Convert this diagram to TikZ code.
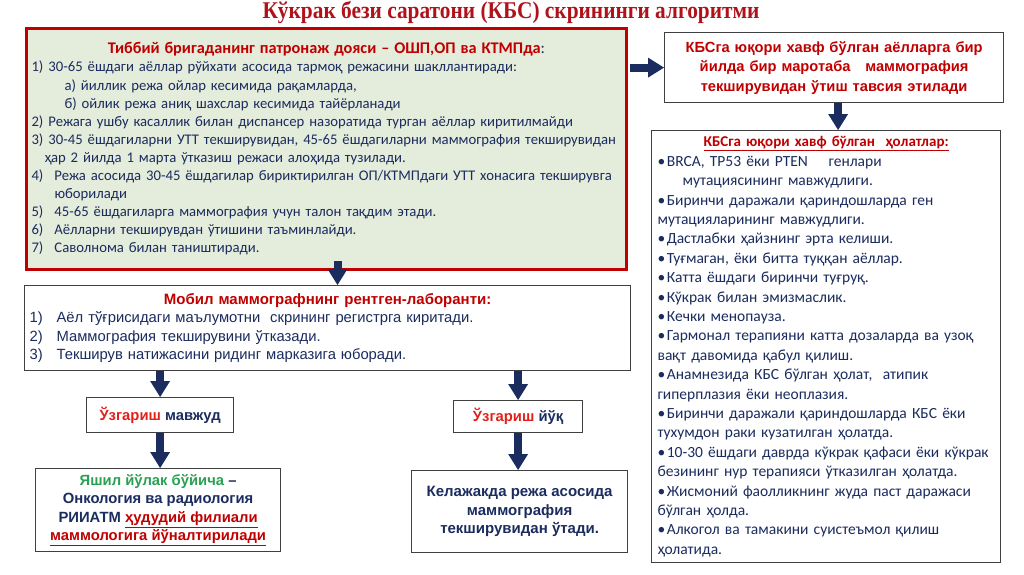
\documentclass[tikz,border=0pt]{standalone}
\usepackage{fontspec}
\setmainfont{Carlito}
\newfontfamily\arialfont{Liberation Sans}
\newfontfamily\timesfont[FakeStretch=0.89]{Liberation Serif}
\usepackage{xcolor}
\usetikzlibrary{arrows.meta}
\definecolor{navy}{HTML}{1B2C5E}
\definecolor{redtxt}{HTML}{C00000}
\definecolor{brightred}{HTML}{E0201B}
\definecolor{titlered}{HTML}{B0121B}
\definecolor{greentxt}{HTML}{2AA052}
\definecolor{palegreen}{HTML}{E4ECDC}
\definecolor{boxgray}{HTML}{404040}
\newcommand{\bul}{•\hspace{1.5pt}}

\begin{document}
\begin{tikzpicture}[
    x=1pt, y=-1pt,
    titletext/.style={font=\timesfont\bfseries\fontsize{24}{26}\selectfont, text=titlered},
    plan/.style={rectangle, draw=redtxt, line width=3pt, fill=palegreen, anchor=north west,
        inner xsep=5pt, inner ysep=0pt, align=left, text=navy,
        font=\fontsize{14.7}{18.1}\selectfont},
    card/.style={rectangle, draw=boxgray, line width=1.2pt, fill=white, anchor=north west,
        inner xsep=5pt, inner ysep=0pt, text=navy},
    boldcard/.style={card, align=center, font=\arialfont\bfseries\fontsize{14.8}{18.6}\selectfont},
    flow/.style={draw=navy, line width=8pt, -{Triangle[width=20pt,length=16pt,line width=0pt]}},
]
\useasboundingbox (0,0) rectangle (1024,574);

% Title
\node[titletext] (title) at (511,12) {Кўкрак бези саратони (КБС) скрининги алгоритми};

% Patronage nurse plan
\node[plan, minimum height=241pt, text width=590pt] (patronage) at (25,27) {%
\makebox[\linewidth]{\textcolor{redtxt}{\bfseries\fontsize{16.3}{18.1}\selectfont Тиббий бригаданинг патронаж дояси – ОШП,ОП ва КТМПда}{\fontsize{16.3}{18.1}\selectfont:}}\\
\makebox[17pt][l]{1)}30-65 ёшдаги аёллар рўйхати асосида тармоқ режасини шакллантиради:\\
\hspace*{33pt}а) йиллик режа ойлар кесимида рақамларда,\\
\hspace*{33pt}б) ойлик режа аниқ шахслар кесимида тайёрланади\\
\makebox[17pt][l]{2)}Режага ушбу касаллик билан диспансер назоратида турган аёллар киритилмайди\\
\makebox[17pt][l]{3)}30-45 ёшдагиларни УТТ текширувидан, 45-65 ёшдагиларни маммография текширувидан\\
\hspace*{13pt}ҳар 2 йилда 1 марта ўтказиш режаси алоҳида тузилади.\\
\makebox[23pt][l]{4)}Режа асосида 30-45 ёшдагилар бириктирилган ОП/КТМПдаги УТТ хонасига текширувга\\
\hspace*{23pt}юборилади\\
\makebox[23pt][l]{5)}45-65 ёшдагиларга маммография учун талон тақдим этади.\\
\makebox[23pt][l]{6)}Аёлларни текширувдан ўтишини таъминлайди.\\
\makebox[23pt][l]{7)}Саволнома билан таништиради.};

% High risk advice
\node[card, minimum height=70pt, text width=329pt, align=center, text=redtxt,
    font=\arialfont\bfseries\fontsize{14.7}{19.5}\selectfont] (advice) at (664,32) {%
КБСга юқори хавф бўлган аёлларга бир\\
йилда бир маротаба \ \ маммография\\
текширувидан ўтиш тавсия этилади};

% High risk conditions
\node[card, minimum height=432pt, text width=337pt, inner xsep=6pt, align=left,
    font=\fontsize{15.5}{19.4}\selectfont] (risks) at (651,130) {%
\makebox[\linewidth]{\textcolor{redtxt}{\bfseries\fontsize{15}{19.4}\selectfont\underline{КБСга юқори хавф бўлган \ ҳолатлар:}}}\\
\bul BRCA, TP53 ёки PTEN \ \ \ генлари\\
\hspace*{25pt}мутациясининг мавжудлиги.\\
\bul Биринчи даражали қариндошларда ген\\
мутацияларининг мавжудлиги.\\
\bul Дастлабки ҳайзнинг эрта келиши.\\
\bul Туғмаган, ёки битта туққан аёллар.\\
\bul Катта ёшдаги биринчи туғруқ.\\
\bul Кўкрак билан эмизмаслик.\\
\bul Кечки менопауза.\\
\bul Гармонал терапияни катта дозаларда ва узоқ\\
вақт давомида қабул қилиш.\\
\bul Анамнезида КБС бўлган ҳолат, \ атипик\\
гиперплазия ёки неоплазия.\\
\bul Биринчи даражали қариндошларда КБС ёки\\
тухумдон раки кузатилган ҳолатда.\\
\mbox{\bul 10-30 ёшдаги даврда кўкрак қафаси ёки кўкрак}\\
\mbox{безининг нур терапияси ўтказилган ҳолатда.}\\
\bul Жисмоний фаолликнинг жуда паст даражаси\\
бўлган ҳолда.\\
\bul Алкогол ва тамакини суистеъмол қилиш\\
ҳолатида.};

% Mobile mammography technician
\node[card, minimum height=85pt, text width=596pt, align=left,
    font=\arialfont\fontsize{14.8}{18.3}\selectfont] (technician) at (24,285) {%
\makebox[\linewidth]{\textcolor{redtxt}{\bfseries\fontsize{15}{18.3}\selectfont Мобил маммографнинг рентген-лаборанти:}}\\
\makebox[27pt][l]{1)}Аёл тўғрисидаги маълумотни \ скрининг регистрга киритади.\\
\makebox[27pt][l]{2)}Маммография текширувини ўтказади.\\
\makebox[27pt][l]{3)}Текширув натижасини ридинг марказига юборади.};

% Outcomes
\node[boldcard, minimum width=147pt, minimum height=35pt] (change) at (86,397)
    {\textcolor{brightred}{Ўзгариш} мавжуд};
\node[boldcard, minimum width=129pt, minimum height=32pt] (nochange) at (453,400)
    {\textcolor{brightred}{Ўзгариш} йўқ};

% Referral and follow-up
\node[boldcard, minimum width=245pt, minimum height=83pt] (referral) at (35,468) {%
\textcolor{greentxt}{Яшил йўлак бўйича} –\\
Онкология ва радиология\\
РИИАТМ \textcolor{redtxt}{\underline{ҳудудий филиали}}\\
\textcolor{redtxt}{\underline{маммологига йўналтирилади}}};
\node[boldcard, minimum width=216pt, minimum height=82pt, font=\arialfont\bfseries\fontsize{15}{18.5}\selectfont] (followup) at (411,470) {%
Келажакда режа асосида\\
маммография\\
текширувидан ўтади.};

% Arrows
\draw[flow] ([xshift=2pt]patronage.east |- advice.west) -- (advice.west);
\draw[flow] ([xshift=4pt]advice.south) -- ([xshift=4pt]advice.south |- risks.north);
\draw[flow] ([xshift=11pt,yshift=10pt]patronage.south) -- ([xshift=11pt]patronage.south |- technician.north);
\draw[flow] (change.north |- technician.south) -- (change.north);
\draw[flow] (change.south) -- (change.south |- referral.north);
\draw[flow] (nochange.north |- technician.south) -- (nochange.north);
\draw[flow] (nochange.south) -- (nochange.south |- followup.north);

\end{tikzpicture}
\end{document}
